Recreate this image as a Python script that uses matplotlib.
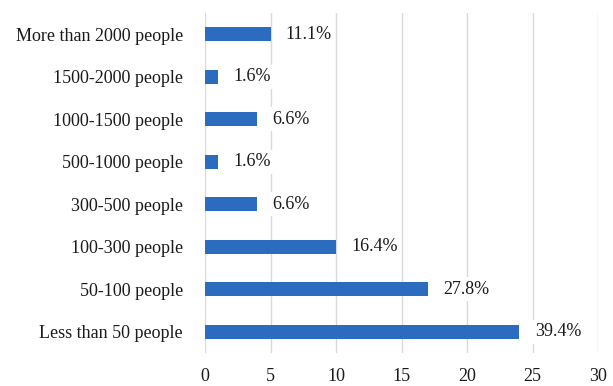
import matplotlib.pyplot as plt

categories = ['More than 2000 people', '1500-2000 people', '1000-1500 people',
              '500-1000 people', '300-500 people', '100-300 people',
              '50-100 people', 'Less than 50 people']
counts = [5, 1, 4, 1, 4, 10, 17, 24]
pct_labels = ['11.1%', '1.6%', '6.6%', '1.6%', '6.6%', '16.4%', '27.8%', '39.4%']
xticks = [0, 5, 10, 15, 20, 25, 30]

plt.rcParams['font.family'] = ['Liberation Serif', 'DejaVu Serif']

fig = plt.figure(figsize=(6.13, 3.86), dpi=100)
ax = fig.add_axes([205 / 613, 1 - 353 / 386, 393 / 613, 340 / 386])

ypos = list(range(len(categories)))[::-1]
ax.barh(ypos, counts, height=0.33, color='#2B6CBF', zorder=2)

for y, c, lab in zip(ypos, counts, pct_labels):
    ax.annotate(lab, (c, y), xytext=(11, 0), textcoords='offset points',
                va='center', ha='left', fontsize=13, color='#1a1a1a',
                bbox=dict(facecolor='white', edgecolor='none', pad=2.5), zorder=3)

ax.set_xlim(0, 30)
ax.set_ylim(-0.5, len(categories) - 0.5)
ax.set_xticks(xticks)
ax.set_yticks(ypos)
ax.set_yticklabels(categories)
ax.tick_params(axis='both', length=0, labelsize=13, colors='#1a1a1a')
ax.tick_params(axis='y', pad=16)
ax.tick_params(axis='x', pad=11)
ax.grid(axis='x', color='#d9d9d9', linewidth=1, zorder=0)
for s in ax.spines.values():
    s.set_visible(False)

fig.savefig('out.png', dpi=100)
